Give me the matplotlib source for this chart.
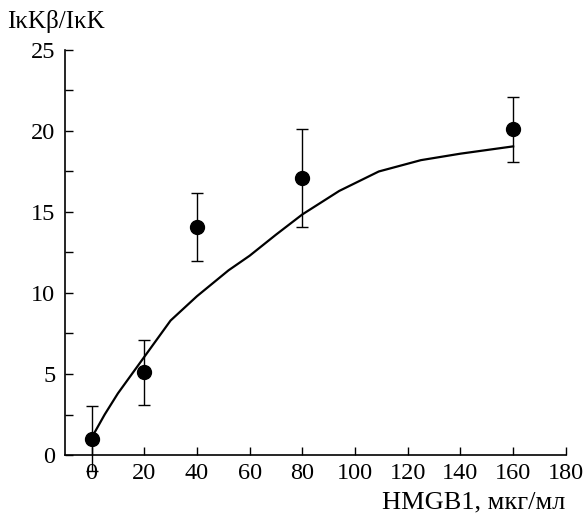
import numpy as np
import matplotlib.pyplot as plt
from matplotlib.ticker import MultipleLocator

# measured points with error bars
dose = [0, 20, 40, 80, 160]
ratio = [1.0, 5.1, 14.1, 17.1, 20.1]
err = [2.0, 2.0, 2.1, 3.0, 2.0]

# fitted curve
curve_x = [0, 5, 10, 20, 30, 40, 52, 60, 70, 80, 94, 109, 125, 140, 160]
curve_y = [1.05, 2.5, 3.8, 6.05, 8.3, 9.8, 11.4, 12.3, 13.6, 14.85, 16.3, 17.5, 18.2, 18.6, 19.05]

plt.rcParams['font.family'] = ['Liberation Serif', 'DejaVu Serif']

fig = plt.figure(figsize=(5.87, 5.19), dpi=100)
ax = fig.add_axes([0.111, 0.1233, 0.853, 0.7804])

ax.plot(curve_x, curve_y, color='black', linewidth=1.6)
ax.errorbar(dose, ratio, yerr=err, fmt='o', color='black', markersize=10,
            elinewidth=1.0, capsize=4, capthick=1.0, clip_on=False)

ax.set_xlim(-10, 180)
ax.set_ylim(0, 25)
ax.set_xticks(np.arange(0, 181, 20))
ax.yaxis.set_major_locator(MultipleLocator(5))
ax.yaxis.set_minor_locator(MultipleLocator(2.5))

for side in ['top', 'right']:
    ax.spines[side].set_visible(False)
for side in ['left', 'bottom']:
    ax.spines[side].set_linewidth(1.2)

ax.tick_params(axis='both', which='both', direction='in', length=6, width=1.0,
               labelsize=17.5)
ax.tick_params(axis='y', pad=7)
ax.tick_params(axis='x', pad=6)

fig.text(0.012, 0.958, 'IκKβ/IκK', fontsize=18, ha='left', va='center')
fig.text(0.964, 0.031, 'HMGB1, мкг/мл', fontsize=19, ha='right', va='center')

plt.savefig('out.png', dpi=100)
